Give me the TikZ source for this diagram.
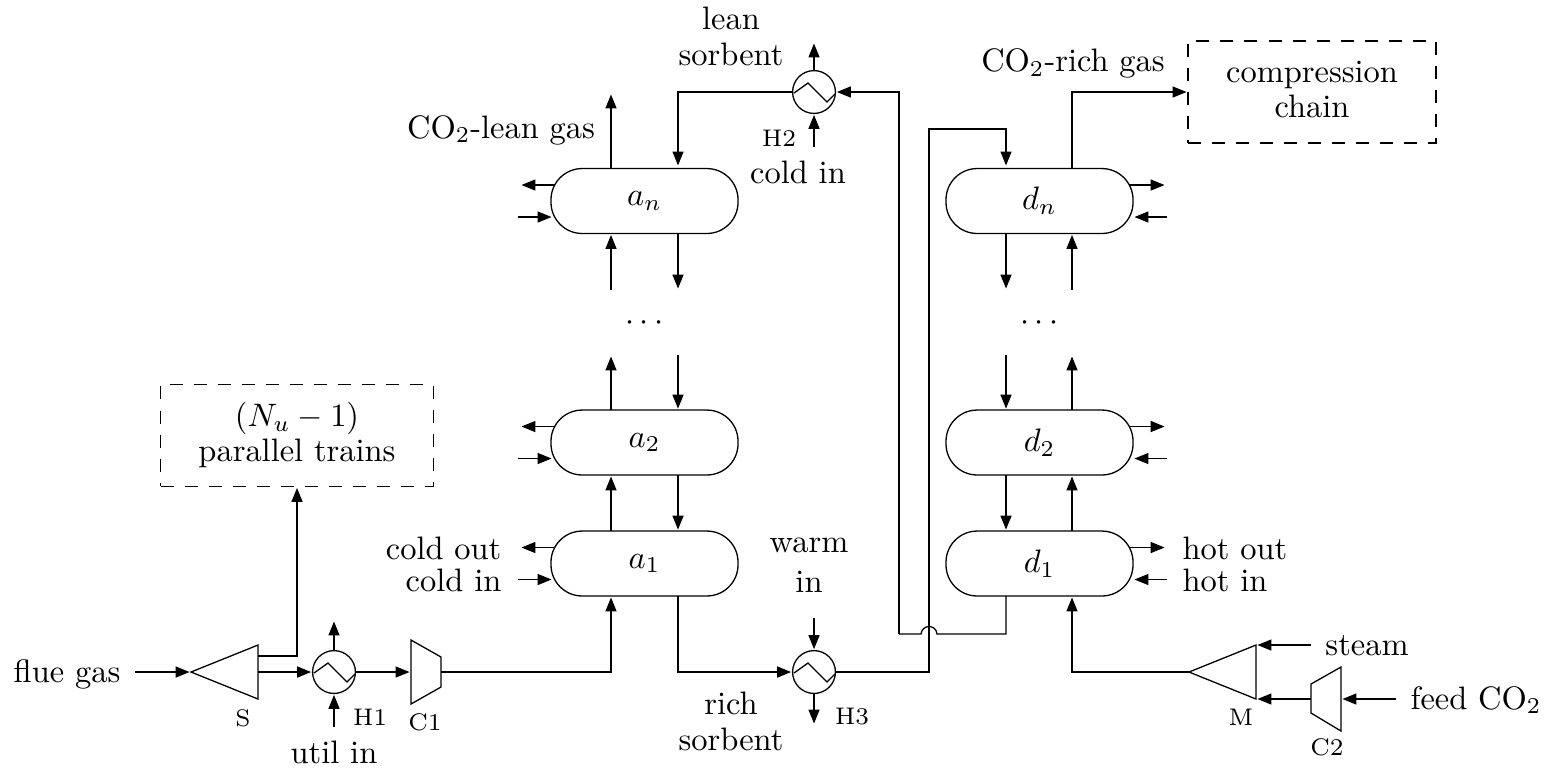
\documentclass[tikz,border=0pt]{standalone}
\usetikzlibrary{arrows.meta}
\tikzset{
  x=0.308pt,y=-0.308pt,
  line width=0.62pt,
  line join=miter,
  flow/.style={draw,-{Triangle[length=4.3pt,width=3.4pt]},shorten >=0.45pt},
  pipe/.style={draw},
  vessel/.style={draw,rectangle,rounded corners=9.6pt,minimum width=57.6pt,minimum height=20pt,inner sep=0pt,outer sep=0pt},
  hx/.style={draw,circle,minimum size=13.2pt,inner sep=0pt,outer sep=0pt},
  dashbox/.style={draw,dash pattern=on 4pt off 3.4pt,rectangle,inner sep=0pt,outer sep=0pt,align=center},
  lbl/.style={inner sep=0pt,align=center,text depth=0pt,yshift=0.45pt},
  tiny label/.style={inner sep=0pt,font=\fontsize{7.4}{9}\selectfont},
}
\begin{document}
\begin{tikzpicture}
\useasboundingbox (0,0) rectangle (1553,769);
% vessels
\foreach \n/\t/\y in {an/a_n/201,a2/a_2/442.5,a1/a_1/563.5}{
  \node[vessel] (\n) at (644.5,\y) {$\t$};
  \coordinate (\n-po) at (555,\y-16);
  \coordinate (\n-pof) at (520,\y-16);
  \coordinate (\n-pif) at (518,\y+16);
  \coordinate (\n-pi) at (553,\y+16);
  \draw[flow] (\n-po) -- (\n-pof);
  \draw[flow] (\n-pif) -- (\n-pi);
}
\foreach \n/\t/\y in {dn/d_n/201,d2/d_2/442.5,d1/d_1/563.5}{
  \node[vessel] (\n) at (1039.5,\y) {$\t$};
  \coordinate (\n-po) at (1129,\y-16);
  \coordinate (\n-pof) at (1166,\y-16);
  \coordinate (\n-pif) at (1167,\y+16);
  \coordinate (\n-pi) at (1133,\y+16);
  \draw[flow] (\n-po) -- (\n-pof);
  \draw[flow] (\n-pif) -- (\n-pi);
}
% column guides
\coordinate (aL) at (611,0);
\coordinate (aR) at (678,0);
\coordinate (dL) at (1006,0);
\coordinate (dR) at (1072,0);
% dots
\node[inner sep=0pt] (adots) at (644.5,323) {$\cdots$};
\node[inner sep=0pt] (ddots) at (1039.5,323) {$\cdots$};
\coordinate (aLlow) at (611,355);
\coordinate (aLhigh) at (611,290);
\coordinate (aRhigh) at (678,290);
\coordinate (aRlow) at (678,355);
\coordinate (dLhigh) at (1006,290);
\coordinate (dLlow) at (1006,355);
\coordinate (dRhigh) at (1072,290);
\coordinate (dRlow) at (1072,355);
% heat exchangers
\foreach \n/\x/\y in {H1/334/672,H2/814/92,H3/814/672}{
  \node[hx] (\n) at (\x,\y) {};
  \draw (\x-20,\y+1) -- (\x-6,\y-9) -- (\x+13,\y+10) -- (\x+21,\y+2);
}
% splitter, mixer, compressors
\coordinate (Stip) at (191,672);
\coordinate (Sup) at (258,656);
\coordinate (Smid) at (258,672);
\draw (Stip) -- (258,645) -- (258,699) -- cycle;
\coordinate (Mtip) at (1189,672);
\coordinate (Mup) at (1256,645);
\coordinate (Mlow) at (1256,699);
\draw (Mtip) -- (1256,645) -- (1256,699) -- cycle;
\coordinate (C1in) at (411,672);
\coordinate (C1out) at (441,672);
\draw (411,640) -- (441,657) -- (441,687) -- (411,704) -- cycle;
\coordinate (C2in) at (1341,699);
\coordinate (C2out) at (1311,699);
\draw (1341,667) -- (1311,684) -- (1311,713) -- (1341,731) -- cycle;
% dashed boxes
\node[dashbox,minimum width=83.9pt,minimum height=31.4pt] (train) at (297,435.5) {};
\node[dashbox,minimum width=76.4pt,minimum height=31.4pt] (comp) at (1312,92) {};
% absorber flows
\coordinate (leantop) at (611,93);
\draw[flow] (an.north -| aL) -- (leantop);
\draw[flow] (H2.west) -| ([yshift=0.5pt]an.north -| aR);
\draw[flow] (aLhigh) -- (an.south -| aL);
\draw[flow] (an.south -| aR) -- (aRhigh);
\draw[flow] (a2.north -| aL) -- (aLlow);
\draw[flow] (aRlow) -- (a2.north -| aR);
\draw[flow] (a1.north -| aL) -- (a2.south -| aL);
\draw[flow] (a2.south -| aR) -- (a1.north -| aR);
% desorber flows
\draw[flow] (dn.south -| dL) -- (dLhigh);
\draw[flow] (dRhigh) -- (dn.south -| dR);
\draw[flow] (dLlow) -- (d2.north -| dL);
\draw[flow] (d2.north -| dR) -- (dRlow);
\draw[flow] (d2.south -| dL) -- (d1.north -| dL);
\draw[flow] (d1.north -| dR) -- (d2.south -| dR);
% H2 and H3 utilities
\coordinate (H2top) at (814,42);
\coordinate (H2bot) at (814,147);
\draw[flow] (H2.north) -- (H2top);
\draw[flow] (H2bot) -- (H2.south);
\coordinate (H3top) at (814,618);
\coordinate (H3bot) at (814,725);
\draw[flow] (H3top) -- (H3.north);
\draw[flow] (H3.south) -- (H3bot);
\coordinate (H1top) at (334,620);
\coordinate (H1bot) at (334,727);
\draw[flow] (H1.north) -- (H1top);
\draw[flow] (H1bot) -- (H1.south);
% return line with jump
\coordinate (jumpR) at (937,634);
\coordinate (jumpL) at (921,634);
\coordinate (retC) at (899,634);
\coordinate (retT) at (899,92);
\draw[pipe] (d1.south -| dL) |- (jumpR) .. controls (936,624) and (922,624) .. (jumpL) -- (retC);
\draw[flow] (retC) -- (retT) -- (H2.east);
% rich sorbent path
\coordinate (riser) at (929,672);
\coordinate (riserT) at (929,129);
\coordinate (dnT) at (1006,129);
\draw[flow] (H3.east) -- (riser) -- (riserT) -- (dnT) -- ([yshift=0.5pt]dn.north -| dL);
\draw[flow] (a1.south -| aR) |- (H3.west);
% rich gas
\coordinate (richT) at (1072,92);
\draw[flow] (dn.north -| dR) -- (richT) -- (comp.west);
% bottom train
\coordinate (flueIn) at (135,672);
\draw[flow] (flueIn) -- (Stip);
\draw[flow] (Sup) -| (train.south);
\draw[flow] (Smid) -- (H1.west);
\draw[flow] (H1.east) -- (C1in);
\draw[flow] (C1out) -| (a1.south -| aL);
% mixer side
\draw[flow] (Mtip) -| (d1.south -| dR);
\coordinate (steamIn) at (1311,645);
\coordinate (feedIn) at (1396,699);
\draw[flow] (steamIn) -- (Mup);
\draw[flow] (C2out) -- (Mlow);
\draw[flow] (feedIn) -- (C2in);
% labels
\node[lbl] (t1) at (67,672) {flue gas};
\node[lbl] (t2) at (334,754) {util in};
\node[lbl] (t3) at (501,128) {CO$_2$-lean gas};
\node[lbl] (t4) at (731,20) {lean};
\node[lbl] (t5) at (731,56) {sorbent};
\node[lbl] (t6) at (798,174) {cold in};
\node[lbl] (t7) at (809,547) {warm};
\node[lbl] (t8) at (809,583) {in};
\node[lbl] (t9) at (731,705) {rich};
\node[lbl] (t10) at (731,741) {sorbent};
\node[lbl] (t11) at (1073,62) {CO$_2$-rich gas};
\node[lbl] (t12) at (1312,73) {compression};
\node[lbl] (t13) at (1312,108) {chain};
\node[lbl] (t14) at (1367,647) {steam};
\node[lbl] (t15) at (1476,699) {feed CO$_2$};
\node[lbl,anchor=east] (t16) at (502,550) {cold out};
\node[lbl,anchor=east] (t17) at (502,582) {cold in};
\node[lbl,anchor=west] (t18) at (1182,550) {hot out};
\node[lbl,anchor=west] (t19) at (1182,582) {hot in};
\node[lbl] (t20) at (297,416) {$(N_u-1)$};
\node[lbl] (t21) at (297,452) {parallel trains};
\node[tiny label] (s1) at (243,718) {S};
\node[tiny label] (s2) at (370,717) {H1};
\node[tiny label] (s3) at (425,722) {C1};
\node[tiny label] (s4) at (779,138) {H2};
\node[tiny label] (s5) at (852,717) {H3};
\node[tiny label] (s6) at (1241,717) {M};
\node[tiny label] (s7) at (1327,747) {C2};
\end{tikzpicture}
\end{document}
